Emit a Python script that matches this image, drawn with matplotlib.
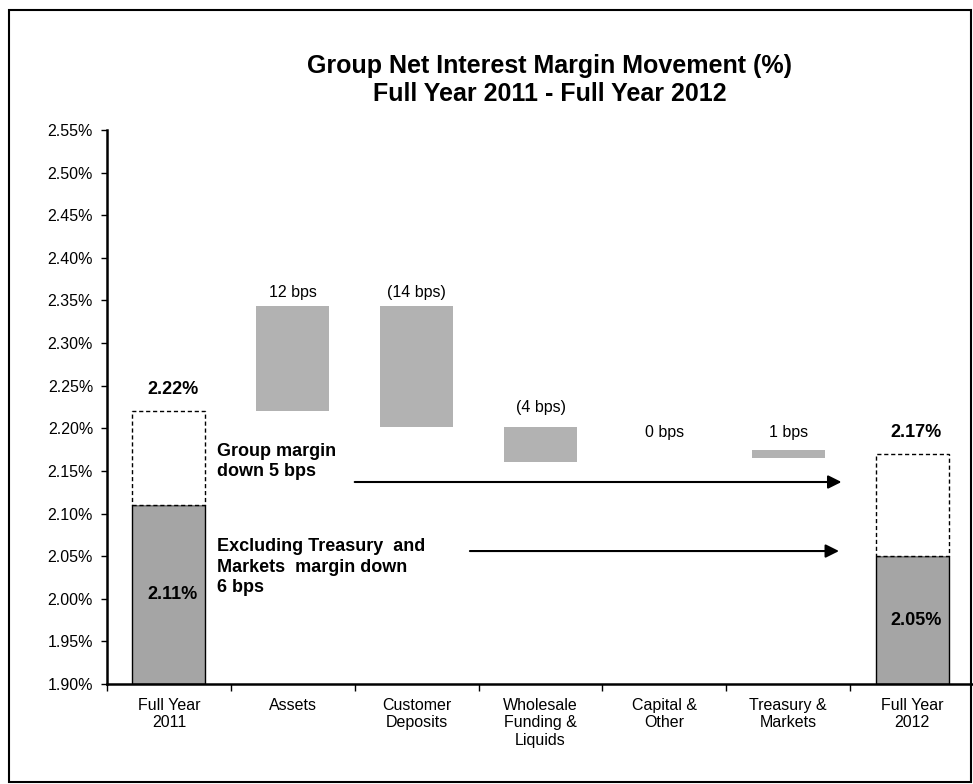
import numpy as np
import matplotlib.pyplot as plt
from matplotlib.patches import Rectangle

plt.rcParams['font.family'] = ['Liberation Sans', 'DejaVu Sans']

categories = ["Full Year\n2011", "Assets", "Customer\nDeposits", "Wholesale\nFunding &\nLiquids",
              "Capital &\nOther", "Treasury &\nMarkets", "Full Year\n2012"]

# totals (first and last column)
total_idx = [0, 6]
group_margin = [2.22, 2.17]        # dashed box tops
excl_tm_margin = [2.11, 2.05]      # solid bars
total_labels = ["2.22%", "2.17%"]
inner_labels = ["2.11%", "2.05%"]

# floating movement bars
move_idx = [1, 2, 3, 4, 5]
move_low = [2.220, 2.202, 2.160, 2.160, 2.165]
move_high = [2.344, 2.344, 2.202, 2.160, 2.174]
move_labels = ["12 bps", "(14 bps)", "(4 bps)", "0 bps", "1 bps"]
move_label_y = [2.359, 2.359, 2.224, 2.195, 2.195]

y_min, y_max, y_step = 1.90, 2.55, 0.05
base = 1.90

dark = '#a5a5a5'
light = '#b2b2b2'
bar_w = 0.59

fig = plt.figure(figsize=(9.73, 7.84), dpi=100)
ax = fig.add_axes([107/973, 100/784, 867/973, 554/784])

# solid bars
ax.bar(total_idx, np.array(excl_tm_margin) - base, bottom=base, width=bar_w,
       color=dark, edgecolor='black', linewidth=1.0, zorder=2)
# dashed boxes
ax.bar(total_idx, np.array(group_margin) - np.array(excl_tm_margin), bottom=excl_tm_margin,
       width=bar_w, color='white', edgecolor='black', linewidth=1.0, linestyle=(0, (3, 2)), zorder=2)
# movements
ax.bar(move_idx, np.array(move_high) - np.array(move_low), bottom=move_low, width=bar_w,
       color=light, edgecolor='none', zorder=2)

for i, top, lab in zip(total_idx, group_margin, total_labels):
    ax.text(i + 0.03, top + 0.025, lab, ha='center', va='center', fontsize=13, fontweight='bold')
for i, top, lab in zip(total_idx, excl_tm_margin, inner_labels):
    ax.text(i + 0.03, (top + base) / 2, lab, ha='center', va='center', fontsize=13, fontweight='bold')
for i, y, lab in zip(move_idx, move_label_y, move_labels):
    ax.text(i, y, lab, ha='center', va='center', fontsize=11.5)

ax.text(0.39, 2.161, "Group margin\ndown 5 bps", ha='left', va='center', fontsize=13,
        fontweight='bold', linespacing=1.25)
ax.text(0.39, 2.037, "Excluding Treasury  and\nMarkets  margin down\n6 bps", ha='left', va='center',
        fontsize=13, fontweight='bold', linespacing=1.25)

arrow = dict(arrowstyle='-|>', color='black', lw=1.5, mutation_scale=20, shrinkA=0, shrinkB=0)
ax.annotate("", xy=(5.43, 2.137), xytext=(1.50, 2.137), arrowprops=arrow)
ax.annotate("", xy=(5.41, 2.056), xytext=(2.43, 2.056), arrowprops=arrow)

ax.set_xlim(-0.5, 6.5)
ax.set_ylim(y_min, y_max)
yt = np.arange(y_min, y_max + 1e-9, y_step)
ax.set_yticks(yt)
ax.set_yticklabels(["{:.2f}%".format(v) for v in yt], fontsize=11.5)
ax.tick_params(axis='y', direction='out', length=4, width=1, pad=6)

ax.set_xticks(range(len(categories)))
ax.set_xticklabels(categories, fontsize=11.5)
ax.set_xticks(np.arange(-0.5, len(categories), 1.0), minor=True)
ax.tick_params(axis='x', which='major', length=0, pad=10)
ax.tick_params(axis='x', which='minor', direction='out', length=5, width=1)

for s in ['top', 'right']:
    ax.spines[s].set_visible(False)
ax.spines['left'].set_linewidth(1.8)
ax.spines['bottom'].set_linewidth(1.8)

fig.text(0.565, 0.898, "Group Net Interest Margin Movement (%)\nFull Year 2011 - Full Year 2012",
         ha='center', va='center', fontsize=18, fontweight='bold', linespacing=1.25)

fig.patches.append(Rectangle((0.009, 0.002), 0.989, 0.985, transform=fig.transFigure,
                             fill=False, lw=1.5, ec='black'))

fig.savefig("out.png", dpi=100)
